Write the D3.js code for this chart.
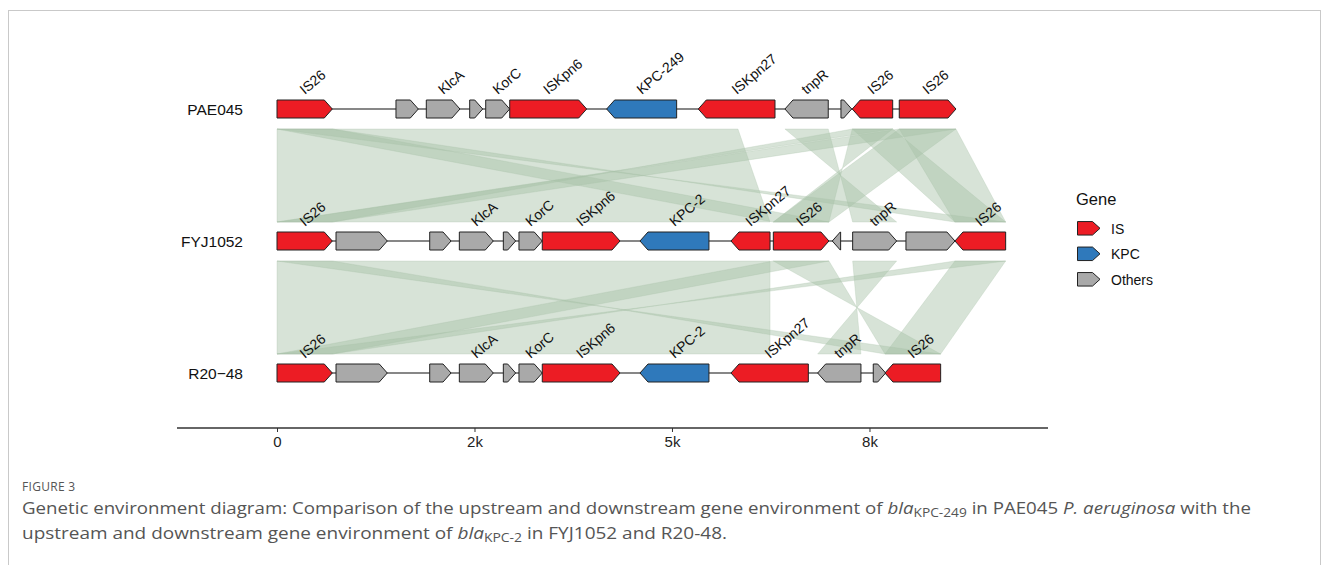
<!DOCTYPE html>
<html><head><meta charset="utf-8">
<script src="https://cdn.jsdelivr.net/npm/d3@7"></script>
<style>body{margin:0;background:#fff}</style>
</head><body><svg id="c" width="1328" height="565"></svg>
<script>
const genomes = ["PAE045","FYJ1052","R20\u221248"];
const geneTypes = ["IS","KPC","Others"];
const typeColors = ["#ec1c24","#2f79bb","#a9a9a9"];
// [start, end, strand, type, label]
const genesPAE045 = [
 [0,700,1,"IS","IS26"],
 [1506,1789,1,"Others",""],
 [1890,2316,1,"Others","KlcA"],
 [2439,2604,1,"Others",""],
 [2642,2946,1,"Others","KorC"],
 [2946,3920,1,"IS","ISKpn6"],
 [4173,5059,-1,"KPC","KPC-249"],
 [5333,6304,-1,"IS","ISKpn27"],
 [6430,6978,-1,"Others","tnpR"],
 [7139,7275,1,"Others",""],
 [7282,7794,-1,"IS","IS26"],
 [7877,8595,1,"IS","IS26"]
];
const genesFYJ1052 = [
 [0,700,1,"IS","IS26"],
 [747,1396,1,"Others",""],
 [1933,2203,1,"Others",""],
 [2308,2738,1,"Others","KlcA"],
 [2865,3021,1,"Others",""],
 [3063,3358,1,"Others","KorC"],
 [3358,4342,1,"IS","ISKpn6"],
 [4595,5468,-1,"KPC","KPC-2"],
 [5747,6241,-1,"IS","ISKpn27"],
 [6283,6987,1,"IS","IS26"],
 [7029,7135,-1,"Others",""],
 [7287,7844,1,"Others","tnpR"],
 [7962,8582,1,"Others",""],
 [8582,9224,-1,"IS","IS26"]
];
const genesR2048 = [
 [0,700,1,"IS","IS26"],
 [747,1396,1,"Others",""],
 [1933,2203,1,"Others",""],
 [2308,2738,1,"Others","KlcA"],
 [2865,3021,1,"Others",""],
 [3063,3358,1,"Others","KorC"],
 [3358,4342,1,"IS","ISKpn6"],
 [4595,5468,-1,"KPC","KPC-2"],
 [5747,6726,-1,"IS","ISKpn27"],
 [6844,7392,-1,"Others","tnpR"],
 [7548,7705,1,"Others",""],
 [7696,8401,-1,"IS","IS26"]
];
// homology links: [topStart, topEnd, bottomStart, bottomEnd] (bp); reversed bottom = inverted hit
const linksPAEtoFYJ = [
 [0,5835,0,6241],
 [0,700,6283,6987],
 [0,700,9224,8582],
 [7282,7794,700,0],
 [7877,8595,0,700],
 [7282,7794,6987,6283],
 [7877,8595,6283,6987],
 [7282,7794,8582,9224],
 [7877,8595,8582,9224],
 [6430,6978,7844,7287]
];
const linksFYJtoR2048 = [
 [0,6241,0,6241],
 [0,700,8401,7696],
 [6283,6987,0,700],
 [8582,9224,700,0],
 [6283,6987,8401,7696],
 [8582,9224,7696,8401],
 [7287,7844,7392,6844]
];
const tickValues = [0,2500,5000,7500];
const tickLabels = ["0","2k","5k","8k"];

const svg = d3.select("#c");
const FONT = "'Liberation Sans', Arial, sans-serif";

// frame
svg.append("rect").attr("x",8.5).attr("y",10.5).attr("width",1312).attr("height",620)
  .attr("fill","none").attr("stroke","#c9c9c9").attr("stroke-width",1);

const x = d3.scaleLinear().domain([-1266, 9760]).range([177, 1048]);
const y = d3.scalePoint().domain(genomes).range([109, 373]);
const color = d3.scaleOrdinal().domain(geneTypes).range(typeColors);
const geneSets = [genesPAE045, genesFYJ1052, genesR2048];
const H = 18, HEAD = 8;

// links
const linkSets = [linksPAEtoFYJ, linksFYJtoR2048];
linkSets.forEach((links, i) => {
  const yt = y(genomes[i]) + 20, yb = y(genomes[i+1]) - 19;
  svg.append("g").selectAll("path").data(links).join("path")
    .attr("d", d => `M${x(d[0])},${yt}L${x(d[1])},${yt}L${x(d[3])},${yb}L${x(d[2])},${yb}Z`)
    .attr("fill", "#a6c2a6").attr("fill-opacity", 0.45)
    .attr("stroke", "#a6c2a6").attr("stroke-opacity", 0.35).attr("stroke-width", 0.8);
});

function arrowPath(x1, x2, strand, yc, h, head) {
  const hd = Math.min(head, x2 - x1);
  const t = yc - h/2, b = yc + h/2;
  if (strand > 0)
    return `M${x1},${t}L${x2-hd},${t}L${x2},${yc}L${x2-hd},${b}L${x1},${b}Z`;
  return `M${x2},${t}L${x1+hd},${t}L${x1},${yc}L${x1+hd},${b}L${x2},${b}Z`;
}

geneSets.forEach((genes, i) => {
  const yc = y(genomes[i]);
  const g = svg.append("g");
  const minS = d3.min(genes, d => d[0]), maxE = d3.max(genes, d => d[1]);
  g.append("line").attr("x1", x(minS)).attr("x2", x(maxE)).attr("y1", yc).attr("y2", yc)
    .attr("stroke", "#111").attr("stroke-width", 1.1);
  g.selectAll("path").data(genes).join("path")
    .attr("d", d => arrowPath(x(d[0]), x(d[1]), d[2], yc, H, HEAD))
    .attr("fill", d => color(d[3])).attr("stroke", "#222").attr("stroke-width", 1);
  g.selectAll("text.gl").data(genes.filter(d => d[4])).join("text")
    .attr("class","gl")
    .attr("transform", d => `translate(${(x(d[0])+x(d[1]))/2},${yc-14}) rotate(-40)`)
    .attr("font-family", FONT).attr("font-size", 14).attr("fill", "#111")
    .text(d => d[4]);
  svg.append("text").attr("x", 243).attr("y", yc + 5.5).attr("text-anchor", "end")
    .attr("font-family", FONT).attr("font-size", 15.5).attr("fill", "#111").text(genomes[i]);
});

// axis
const axisY = 428;
const ax = svg.append("g").attr("transform", `translate(0,${axisY})`)
  .call(d3.axisBottom(x).tickValues(tickValues).tickFormat((d,i) => tickLabels[i]).tickSizeOuter(0).tickSize(4).tickPadding(4));
ax.select(".domain").remove();
ax.append("line").attr("x1",177).attr("x2",1048).attr("stroke","#333").attr("stroke-width",1.6);
ax.selectAll(".tick line").attr("stroke","#333");
ax.selectAll(".tick text").attr("font-family", FONT).attr("font-size", 15).attr("fill","#222");

// legend
const lg = svg.append("g");
lg.append("text").attr("x",1076).attr("y",205).attr("font-family",FONT).attr("font-size",16.5).attr("fill","#111").text("Gene");
geneTypes.forEach((t, i) => {
  const cy = 228.3 + i*25.5;
  lg.append("path").attr("d", arrowPath(1077.5, 1100, 1, cy, 13.5, 7.5))
    .attr("fill", color(t)).attr("stroke","#222").attr("stroke-width",1);
  lg.append("text").attr("x",1111).attr("y",cy+5.5).attr("font-family",FONT).attr("font-size",14).attr("fill","#111").text(t);
});

// caption
const CF = "'Open Sans', 'Noto Sans', sans-serif";
svg.append("text").attr("x",22).attr("y",491).attr("font-family",CF).attr("font-size",12)
  .attr("fill","#555").attr("letter-spacing",0.3).text("FIGURE 3");
function caption(yy, parts, width) {
  const t = svg.append("text").attr("x",22).attr("y",yy).attr("font-family",CF).attr("font-size",17).attr("fill","#555");
  parts.forEach(p => {
    const s = t.append("tspan").text(p.t);
    if (p.i) s.attr("font-style","italic");
    if (p.sub) s.attr("font-size",12.5).attr("baseline-shift","-3");
  });
  t.attr("textLength", width).attr("lengthAdjust","spacingAndGlyphs");
}
caption(514, [
  {t:"Genetic environment diagram: Comparison of the upstream and downstream gene environment of "},
  {t:"bla", i:true},{t:"KPC-249", sub:true},{t:" in PAE045 "},{t:"P. aeruginosa", i:true},{t:" with the"}], 1229);
caption(539, [
  {t:"upstream and downstream gene environment of "},
  {t:"bla", i:true},{t:"KPC-2", sub:true},{t:" in FYJ1052 and R20-48."}], 705);
</script></body></html>
